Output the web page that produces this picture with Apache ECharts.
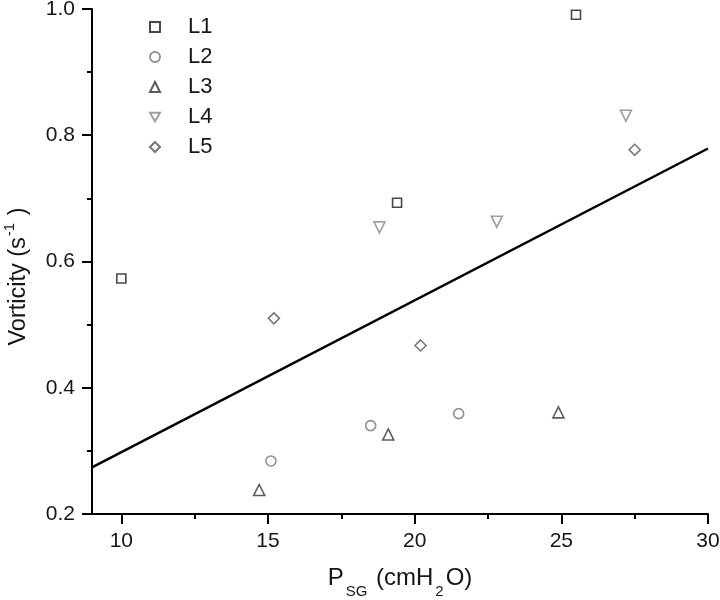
<!DOCTYPE html>
<html>
<head>
<meta charset="utf-8">
<script src="https://cdn.jsdelivr.net/npm/echarts@6/dist/echarts.min.js"></script>
<style>html,body{margin:0;padding:0;background:#fff}#c{width:720px;height:600px}</style>
</head>
<body>
<div id="c"></div>
<script>
var seriesNames = ['L1', 'L2', 'L3', 'L4', 'L5'];
var L1 = [[10.0, 0.573], [19.4, 0.693], [25.5, 0.991]];
var L2 = [[15.1, 0.284], [18.5, 0.340], [21.5, 0.359]];
var L3 = [[14.7, 0.238], [19.1, 0.326], [24.9, 0.361]];
var L4 = [[18.8, 0.654], [22.8, 0.663], [27.2, 0.831]];
var L5 = [[15.2, 0.510], [20.2, 0.467], [27.5, 0.777]];
var fitLine = [[9, 0.274], [30, 0.779]];
var xTicks = [10, 15, 20, 25, 30];
var xMinorTicks = [12.5, 17.5, 22.5, 27.5];
var yTicks = [0.2, 0.4, 0.6, 0.8, 1.0];

var allData = [L1, L2, L3, L4, L5];
var symbols = ['rect', 'circle', 'triangle', 'path://M0,0 L10,0 L5,8.66 Z', 'diamond'];
var sizes = [9, 10, 11, 11, 11];
var colors = ['#1a1a1a', '#777777', '#333333', '#888888', '#555555'];

var chart = echarts.init(document.getElementById('c'));
var series = seriesNames.map(function (n, i) {
  return {
    name: n, type: 'scatter', data: allData[i],
    symbol: symbols[i], symbolSize: sizes[i],
    itemStyle: { color: 'rgba(255,255,255,0)', borderColor: colors[i], borderWidth: 1.6 }
  };
});
series.push({
  name: 'fit', type: 'line', data: fitLine, symbol: 'none',
  lineStyle: { color: '#000', width: 2.5 }, silent: true
});
var FONT = 'Liberation Sans, Arial, sans-serif';
var TXT = '#161616';
chart.setOption({
  animation: false,
  textStyle: { fontFamily: FONT },
  grid: { left: 92, right: 12, top: 9, bottom: 86, containLabel: false, outerBoundsMode: 'none' },
  legend: {
    data: seriesNames, orient: 'vertical', left: 144, top: 11,
    itemGap: 8, itemWidth: 10, itemHeight: 10,
    textStyle: { fontSize: 22, lineHeight: 21, color: TXT, fontFamily: FONT, padding: [0, 0, 0, 23] }
  },
  xAxis: [{
    type: 'value', min: 9, max: 30,
    axisLine: { lineStyle: { color: '#000', width: 2 } },
    axisTick: { show: true, length: 10, lineStyle: { color: '#000', width: 2 }, customValues: xTicks },
    minorTick: { show: false },
    axisLabel: { fontSize: 21, color: TXT, margin: 17, customValues: xTicks },
    splitLine: { show: false },
    name: '{m|P}{sub|SG}{m| (cmH}{sub|2}{m|O)}', nameLocation: 'middle', nameGap: 52,
    nameTextStyle: {
      color: TXT,
      rich: {
        m: { fontSize: 24, lineHeight: 26, verticalAlign: 'top', color: TXT, fontFamily: FONT },
        sub: { fontSize: 15, lineHeight: 14, padding: [18, 2, 0, 2], verticalAlign: 'top', color: TXT, fontFamily: FONT }
      }
    }
  }, {
    type: 'value', min: 9, max: 30, position: 'bottom', gridIndex: 0,
    axisLine: { show: false },
    axisTick: { show: true, length: 5, lineStyle: { color: '#000', width: 2 }, customValues: xMinorTicks },
    axisLabel: { show: false },
    splitLine: { show: false }
  }],
  yAxis: {
    type: 'value', min: 0.2, max: 1.0, interval: 0.2,
    axisLine: { lineStyle: { color: '#000', width: 2 } },
    axisTick: { show: true, length: 10, lineStyle: { color: '#000', width: 2 } },
    minorTick: { show: true, splitNumber: 2, length: 5, lineStyle: { color: '#000', width: 2 } },
    axisLabel: {
      fontSize: 21, color: TXT, margin: 17,
      formatter: function (v) { return v.toFixed(1); }
    },
    splitLine: { show: false },
    name: '{m|Vorticity (s}{sup|-1}{m| )}', nameLocation: 'middle', nameGap: 56,
    nameTextStyle: {
      color: TXT, padding: [0, 30, 0, 0],
      rich: {
        m: { fontSize: 23.5, lineHeight: 30, color: TXT, fontFamily: FONT },
        sup: { fontSize: 15, lineHeight: 12, padding: [0, 1, 18, 1], color: TXT, fontFamily: FONT }
      }
    }
  },
  series: series
});
</script>
</body>
</html>
